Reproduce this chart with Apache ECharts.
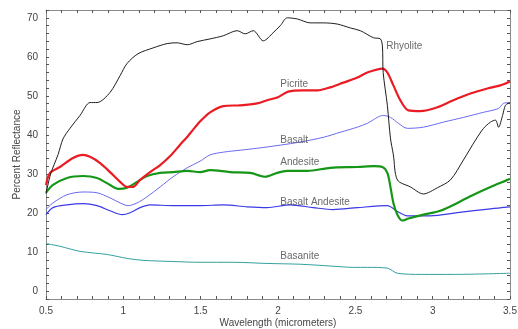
<!DOCTYPE html>
<html>
<head>
<meta charset="utf-8">
<script src="https://cdn.jsdelivr.net/npm/echarts@6/dist/echarts.min.js"></script>
<style>
  html, body { margin: 0; padding: 0; background: #fff; }
  #chart { width: 518px; height: 329px; }
</style>
</head>
<body>
<div id="chart"></div>
<script>
// spectra: [wavelength (um), percent reflectance]
const rhyolite = [
  [0.5, 25], [0.53, 30], [0.578, 35], [0.61, 39], [0.655, 41.7], [0.72, 45], [0.785, 48.3],
  [0.83, 48.3], [0.914, 50.9], [0.979, 55.2], [1.024, 58.3], [1.095, 60.8], [1.193, 62.3],
  [1.283, 63.4], [1.348, 63.6], [1.413, 63.1], [1.477, 63.9], [1.561, 64.6], [1.646, 65.4],
  [1.736, 66.7], [1.788, 65.9], [1.84, 66.7], [1.905, 64.1], [1.969, 66.2], [2.015, 68],
  [2.06, 70], [2.125, 69.7], [2.209, 68.7], [2.293, 68.7], [2.383, 68.4], [2.468, 67.4],
  [2.532, 66.7], [2.617, 64.9], [2.662, 64.6], [2.675, 62.8], [2.68, 56], [2.707, 47.6],
  [2.727, 39.2], [2.746, 34.9], [2.772, 28.5], [2.856, 26.7], [2.94, 24.9], [3.031, 26.5],
  [3.115, 28.5], [3.199, 33.6], [3.277, 38.7], [3.329, 41.7], [3.374, 43.3], [3.406, 43.8],
  [3.426, 42], [3.452, 45], [3.471, 47.6], [3.5, 48.3]
];
const picrite = [
  [0.5, 27.2], [0.526, 30.3], [0.59, 31.8], [0.675, 34.1], [0.739, 34.9], [0.785, 34.4],
  [0.85, 32.8], [0.914, 30.5], [0.979, 28], [1.024, 26.7], [1.063, 26.7], [1.108, 28.5],
  [1.173, 30.5], [1.238, 32.3], [1.303, 34.6], [1.367, 37.5], [1.413, 39.5], [1.45, 41.3],
  [1.497, 43.5], [1.561, 45.8], [1.646, 47.4], [1.756, 47.6], [1.866, 48.1], [1.93, 48.9],
  [1.995, 49.6], [2.066, 51.1], [2.163, 51.4], [2.254, 51.4], [2.338, 52.2], [2.422, 53.4],
  [2.513, 54.7], [2.578, 56], [2.675, 57], [2.707, 56], [2.746, 52.7], [2.791, 48.9],
  [2.843, 46.3], [2.92, 46.1], [3.031, 47.1], [3.134, 48.9], [3.244, 50.6], [3.354, 51.9],
  [3.438, 52.7], [3.5, 53.7]
];
const basalt = [
  [0.5, 20.9], [0.545, 22.6], [0.636, 24.7], [0.739, 25.4], [0.83, 25.2], [0.914, 23.9],
  [0.979, 22.6], [1.031, 21.9], [1.089, 22.6], [1.154, 24.2], [1.238, 26.7], [1.322, 29.3],
  [1.413, 31.6], [1.497, 33.3], [1.561, 34.9], [1.646, 35.6], [1.756, 36.1], [1.866, 36.6],
  [2.015, 37.4], [2.144, 38.2], [2.293, 39.4], [2.403, 40.7], [2.513, 42], [2.578, 43],
  [2.681, 45], [2.727, 44.5], [2.778, 43], [2.836, 41.7], [2.94, 42], [3.07, 43.3],
  [3.199, 44.5], [3.328, 45.8], [3.426, 46.8], [3.458, 48.1], [3.5, 48.3]
];
const andesite = [
  [0.5, 25.2], [0.545, 27.2], [0.636, 29], [0.739, 29.5], [0.83, 29], [0.914, 27.2],
  [0.966, 26.2], [1.024, 26.5], [1.089, 28], [1.154, 29.5], [1.238, 30.3], [1.322, 30.5],
  [1.413, 30.8], [1.497, 30.5], [1.561, 31], [1.69, 30.5], [1.82, 30.3], [1.917, 29.3],
  [1.995, 30.3], [2.06, 30.8], [2.19, 30.8], [2.338, 31.6], [2.513, 31.8], [2.623, 32],
  [2.675, 31.8], [2.707, 30.3], [2.727, 26.7], [2.746, 22.6], [2.772, 19.6], [2.804, 18.1],
  [2.843, 18.6], [2.94, 19.6], [3.05, 20.6], [3.16, 22.6], [3.264, 24.7], [3.374, 26.7],
  [3.484, 28.5], [3.5, 28.8]
];
const basaltAndesite = [
  [0.5, 19.6], [0.545, 21.4], [0.636, 22.1], [0.739, 22.4], [0.83, 21.9], [0.914, 20.6],
  [0.992, 19.6], [1.044, 20.1], [1.108, 21.4], [1.173, 22.1], [1.322, 21.9], [1.497, 21.9],
  [1.646, 22.1], [1.801, 21.6], [1.93, 21.4], [2.079, 22.1], [2.228, 21.4], [2.357, 20.9],
  [2.513, 21.4], [2.707, 21.9], [2.772, 20.4], [2.836, 19.3], [2.985, 19.3], [3.16, 20.1],
  [3.374, 21.1], [3.5, 21.6]
];
const basanite = [
  [0.5, 12.2], [0.59, 11.5], [0.72, 10.2], [0.895, 9.4], [1.024, 8.4], [1.128, 7.9],
  [1.322, 7.6], [1.497, 7.4], [1.71, 7.4], [1.93, 7.1], [2.144, 6.9], [2.357, 6.4],
  [2.487, 6.1], [2.578, 6.1], [2.707, 5.9], [2.772, 4.6], [2.927, 4.3], [3.141, 4.3],
  [3.5, 4.6]
];
// in-plot name labels: [wavelength, reflectance] of each label's left edge
const nameLabels = [
  { name: 'Rhyolite', value: [2.7, 62.8] },
  { name: 'Picrite', value: [2.015, 52.9] },
  { name: 'Basalt', value: [2.015, 38.7] },
  { name: 'Andesite', value: [2.015, 33.1] },
  { name: 'Basalt Andesite', value: [2.015, 22.9] },
  { name: 'Basanite', value: [2.015, 8.9] }
];

const chart = echarts.init(document.getElementById('chart'));
const axisGrey = '#8a8a8a';
const textGrey = '#444';

const xBase = {
  type: 'value', min: 0.5, max: 3.5, interval: 0.1,
  axisLine: { show: true, onZero: false, lineStyle: { color: axisGrey, width: 1 } },
  axisTick: { show: true, inside: true, length: 3, lineStyle: { color: '#555' } },
  splitLine: { show: false }
};
const yBase = {
  type: 'value', min: -2, max: 72, interval: 2,
  axisLine: { show: true, onZero: false, lineStyle: { color: axisGrey, width: 1 } },
  axisTick: { show: true, inside: true, length: 3, lineStyle: { color: '#555' } },
  splitLine: { show: false }
};

function lineSeries(name, data, color, width) {
  return {
    name: name, type: 'line', data: data, showSymbol: false, symbol: 'none',
    smooth: 0.3, xAxisIndex: 0, yAxisIndex: 0,
    lineStyle: { color: color, width: width }, z: 3
  };
}

const option = {
  animation: false,
  backgroundColor: '#fff',
  grid: { left: 46, right: 8, top: 10, bottom: 30, outerBoundsMode: 'none', containLabel: false },
  xAxis: [
    Object.assign({}, xBase, {
      position: 'bottom',
      name: 'Wavelength (micrometers)', nameLocation: 'middle', nameGap: 19,
      nameMoveOverlap: false,
      nameTextStyle: { color: textGrey, fontSize: 10, fontFamily: 'Liberation Sans' },
      axisLabel: {
        color: textGrey, fontSize: 10, fontFamily: 'Liberation Sans', margin: 7,
        formatter: v => Math.abs(v * 2 - Math.round(v * 2)) < 1e-6 ? String(Math.round(v * 2) / 2) : ''
      }
    }),
    Object.assign({}, xBase, { position: 'top', axisLabel: { show: false } })
  ],
  yAxis: [
    Object.assign({}, yBase, {
      position: 'left',
      name: 'Percent Reflectance', nameLocation: 'middle', nameGap: 24,
      nameMoveOverlap: false,
      nameTextStyle: { color: textGrey, fontSize: 10, fontFamily: 'Liberation Sans' },
      axisLabel: {
        color: textGrey, fontSize: 10, fontFamily: 'Liberation Sans', margin: 8,
        formatter: v => (v >= 0 && v % 10 === 0) ? String(v) : ''
      }
    }),
    Object.assign({}, yBase, { position: 'right', axisLabel: { show: false } })
  ],
  series: [
    lineSeries('Basanite', basanite, '#35a0a0', 1),
    lineSeries('Basalt Andesite', basaltAndesite, '#3a3ae6', 1.2),
    lineSeries('Basalt', basalt, '#6a6af2', 1),
    lineSeries('Andesite', andesite, '#169616', 2.2),
    lineSeries('Picrite', picrite, '#ea1b23', 2.2),
    lineSeries('Rhyolite', rhyolite, '#1e1e1e', 1),
    {
      name: 'labels', type: 'scatter', data: nameLabels, symbolSize: 0, silent: true,
      label: {
        show: true, position: 'right', distance: 0, formatter: p => p.name,
        color: textGrey, fontSize: 10, fontFamily: 'Liberation Sans'
      },
      z: 5
    }
  ]
};

chart.setOption(option);
</script>
</body>
</html>
